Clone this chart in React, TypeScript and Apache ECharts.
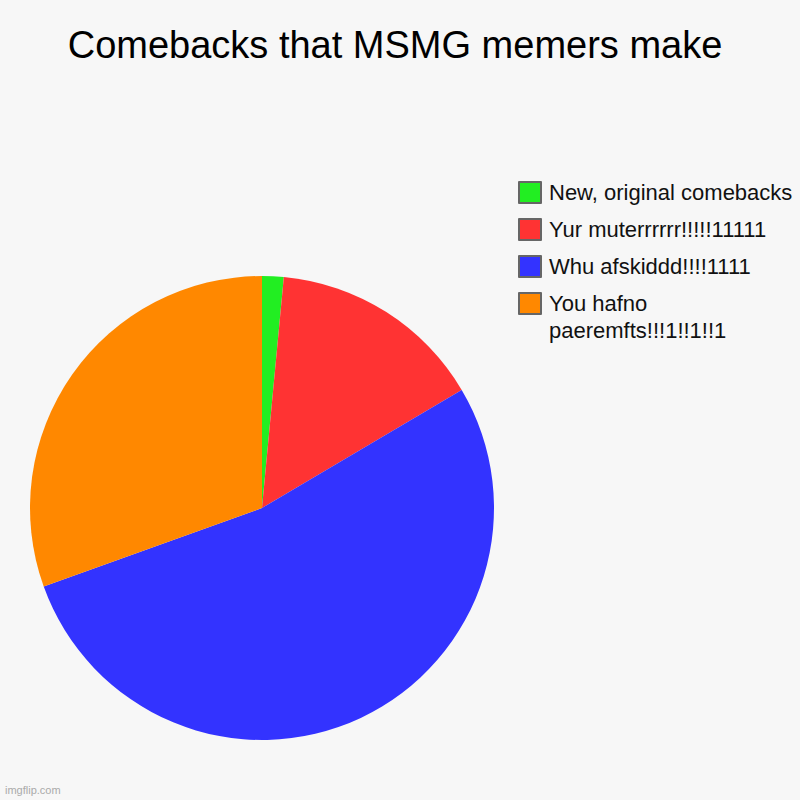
import { useEffect, useRef } from "react";
import * as echarts from "echarts";

const titleText = "Comebacks that MSMG memers make";
const categories = [
  "New, original comebacks",
  "Yur muterrrrrr!!!!!11111",
  "Whu afskiddd!!!!1111",
  "You hafno paeremfts!!!1!!1!!1"
];
const values = [1.5, 15, 53, 30.5];
const colors = ["#22ee22", "#ff3333", "#3333ff", "#ff8800"];

export default function App() {
  const chartRef = useRef<HTMLDivElement>(null);

  useEffect(() => {
    if (!chartRef.current) return;
    const chart = echarts.init(chartRef.current, null, { renderer: "svg" });

    const legendBase = {
      orient: "vertical",
      left: 518,
      padding: 0,
      icon: "rect",
      itemWidth: 22,
      itemHeight: 21,
      itemGap: 10,
      selectedMode: false,
      itemStyle: { borderColor: "#666666", borderWidth: 2 },
      textStyle: {
        fontFamily: "Liberation Sans, Arial, sans-serif",
        fontSize: 22,
        lineHeight: 27,
        color: "#111111",
        padding: [0, 0, 0, 3]
      }
    };

    const option = {
      animation: false,
      backgroundColor: "#f7f7f7",
      title: {
        text: titleText,
        left: 395,
        top: 26,
        padding: 0,
        textAlign: "center",
        textStyle: {
          fontFamily: "Liberation Sans, Arial, sans-serif",
          fontSize: 38,
          fontWeight: "normal",
          color: "#000000"
        }
      },
      legend: [
        {
          ...legendBase,
          top: 179,
          data: categories.slice(0, 3)
        },
        {
          ...legendBase,
          top: 263,
          // leading blank line keeps the first line level with the icon
          formatter: (name: string) => "\n" + name.replace(" paeremfts", "\npaeremfts"),
          data: [categories[3]]
        }
      ],
      graphic: [
        {
          type: "text",
          left: 5,
          top: 784,
          style: {
            text: "imgflip.com",
            fill: "#aaaaaa",
            fontSize: 11,
            fontFamily: "Liberation Sans, Arial, sans-serif"
          }
        }
      ],
      series: [
        {
          type: "pie",
          center: [262, 508],
          radius: 232,
          startAngle: 90,
          clockwise: true,
          label: { show: false },
          labelLine: { show: false },
          emphasis: { disabled: true },
          data: categories.map((name, i) => ({
            name,
            value: values[i],
            itemStyle: { color: colors[i] }
          }))
        }
      ]
    };

    chart.setOption(option);
    return () => {
      chart.dispose();
    };
  }, []);

  return (
    <div
      ref={chartRef}
      style={{ position: "fixed", left: 0, top: 0, width: "800px", height: "800px" }}
    />
  );
}
